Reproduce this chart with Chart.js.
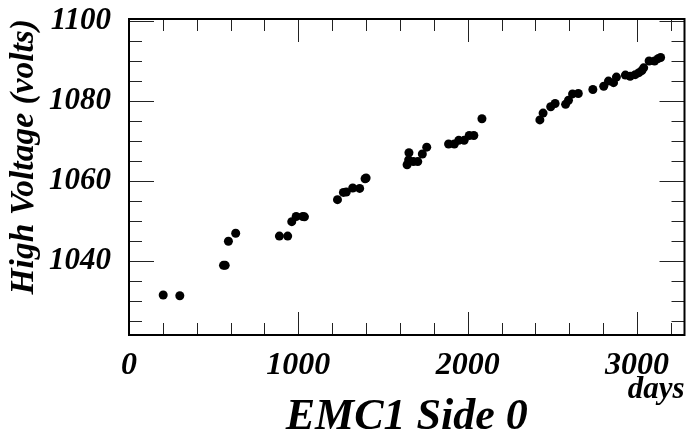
<!DOCTYPE html>
<html>
<head>
<meta charset="utf-8">
<script src="https://cdn.jsdelivr.net/npm/chart.js@4.4.1/dist/chart.umd.min.js"></script>
<style>
  html, body { margin: 0; padding: 0; background: #fff; }
</style>
</head>
<body>
<canvas id="hvChart" width="689" height="442"></canvas>
<script>
// EMC1 Side 0 high voltage history

// Data
const days = [202, 300, 558, 568, 587, 630, 888, 937, 961, 987, 1026, 1036,
  1231, 1266, 1283, 1321, 1362, 1394, 1400, 1642, 1651, 1653, 1679, 1705,
  1732, 1758, 1887, 1921, 1947, 1979, 2009, 2036, 2084, 2426, 2445, 2490,
  2516, 2578, 2595, 2619, 2653, 2739, 2803, 2831, 2861, 2878, 2931, 2959,
  2989, 3011, 3028, 3039, 3071, 3103, 3124, 3139];
const volts = [1031.5, 1031.3, 1038.9, 1038.9, 1044.9, 1046.9, 1046.2, 1046.2,
  1049.8, 1051.1, 1051.1, 1051.0, 1055.3, 1057.1, 1057.2, 1058.2, 1058.1,
  1060.5, 1060.7, 1064.0, 1065.2, 1067.0, 1064.8, 1064.8, 1066.7, 1068.4,
  1069.2, 1069.2, 1070.1, 1070.1, 1071.3, 1071.3, 1075.5, 1075.2, 1076.9,
  1078.5, 1079.3, 1079.1, 1080.1, 1081.7, 1081.8, 1082.8, 1083.6, 1084.9,
  1084.5, 1085.9, 1086.4, 1086.1, 1086.5, 1087.0, 1087.5, 1088.2, 1089.9,
  1089.9, 1090.5, 1090.8];

// Tick labels and tick marks
const xMajor = [0, 1000, 2000, 3000];
const xMinor = [200, 400, 600, 800, 1200, 1400, 1600, 1800, 2200, 2400, 2600, 2800, 3200];
const yMajor = [1040, 1060, 1080, 1100];
const yMinor = [1025, 1030, 1035, 1045, 1050, 1055, 1065, 1070, 1075, 1085, 1090, 1095];

const FONT = "'Liberation Serif', 'Times New Roman', serif";

// Box frame with inward ticks on all four sides (ROOT style)
const frameTicks = {
  id: "frameTicks",
  beforeDatasetsDraw(chart) {
    const { ctx, chartArea: a, scales: { x, y } } = chart;
    ctx.save();
    ctx.strokeStyle = "#222";
    ctx.lineWidth = 1;
    ctx.beginPath();
    const xt = (v, len) => {
      const px = Math.round(x.getPixelForValue(v)) + 0.5;
      ctx.moveTo(px, a.bottom); ctx.lineTo(px, a.bottom - len);
      ctx.moveTo(px, a.top); ctx.lineTo(px, a.top + len);
    };
    const yt = (v, len) => {
      const py = Math.round(y.getPixelForValue(v)) + 0.5;
      ctx.moveTo(a.left, py); ctx.lineTo(a.left + len, py);
      ctx.moveTo(a.right, py); ctx.lineTo(a.right - len, py);
    };
    xMajor.forEach(v => xt(v, 23));
    xMinor.forEach(v => xt(v, 12));
    yMajor.forEach(v => yt(v, 25));
    yMinor.forEach(v => yt(v, 13));
    ctx.stroke();
    ctx.lineWidth = 2;
    ctx.strokeStyle = "#000";
    ctx.strokeRect(a.left, a.top, a.right - a.left, a.bottom - a.top);
    ctx.restore();
  },
  afterDraw(chart) {
    // unit label under the right end of the x axis
    const { ctx, chartArea: a } = chart;
    ctx.save();
    ctx.font = "italic bold 31px " + FONT;
    ctx.fillStyle = "#000";
    ctx.textAlign = "right";
    ctx.textBaseline = "alphabetic";
    ctx.fillText("days", a.right, 398);
    ctx.restore();
  }
};

const ctx = document.getElementById("hvChart").getContext("2d");

new Chart(ctx, {
  type: "scatter",
  data: {
    datasets: [{
      data: days.map((d, i) => ({ x: d, y: volts[i] })),
      backgroundColor: "#000",
      borderWidth: 0,
      pointRadius: 4.5,
      pointHoverRadius: 4.5
    }]
  },
  options: {
    responsive: false,
    animation: false,
    layout: { padding: { top: 19, right: 4, left: 0, bottom: 0 } },
    plugins: {
      legend: { display: false },
      tooltip: { enabled: false }
    },
    scales: {
      x: {
        type: "linear",
        min: 0,
        max: 3280,
        afterBuildTicks: s => { s.ticks = xMajor.map(v => ({ value: v })); },
        afterFit: s => { s.height = 107; s.paddingLeft = 0; s.paddingRight = 0; },
        grid: { display: false, drawTicks: false },
        border: { display: false },
        ticks: {
          padding: 12,
          maxRotation: 0,
          color: "#000",
          callback: v => String(v),
          font: { family: FONT, size: 32, style: "italic", weight: "bold" }
        },
        title: {
          display: true,
          text: "EMC1 Side 0",
          color: "#000",
          padding: { top: 0, bottom: 2 },
          font: { family: FONT, size: 44, style: "italic", weight: "bold", lineHeight: 1 }
        }
      },
      y: {
        type: "linear",
        min: 1021.5,
        max: 1100.4,
        afterBuildTicks: s => { s.ticks = yMajor.map(v => ({ value: v })); },
        afterFit: s => { s.width = 129; s.paddingTop = 0; s.paddingBottom = 0; },
        grid: { display: false, drawTicks: false },
        border: { display: false },
        ticks: {
          padding: 18,
          color: "#000",
          callback: v => String(v),
          font: { family: FONT, size: 31, style: "italic", weight: "bold" }
        },
        title: {
          display: true,
          text: "High Voltage (volts)",
          align: "end",
          color: "#000",
          padding: { top: 4, bottom: 0 },
          font: { family: FONT, size: 33.5, style: "italic", weight: "bold" }
        }
      }
    }
  },
  plugins: [frameTicks]
});
</script>
</body>
</html>
